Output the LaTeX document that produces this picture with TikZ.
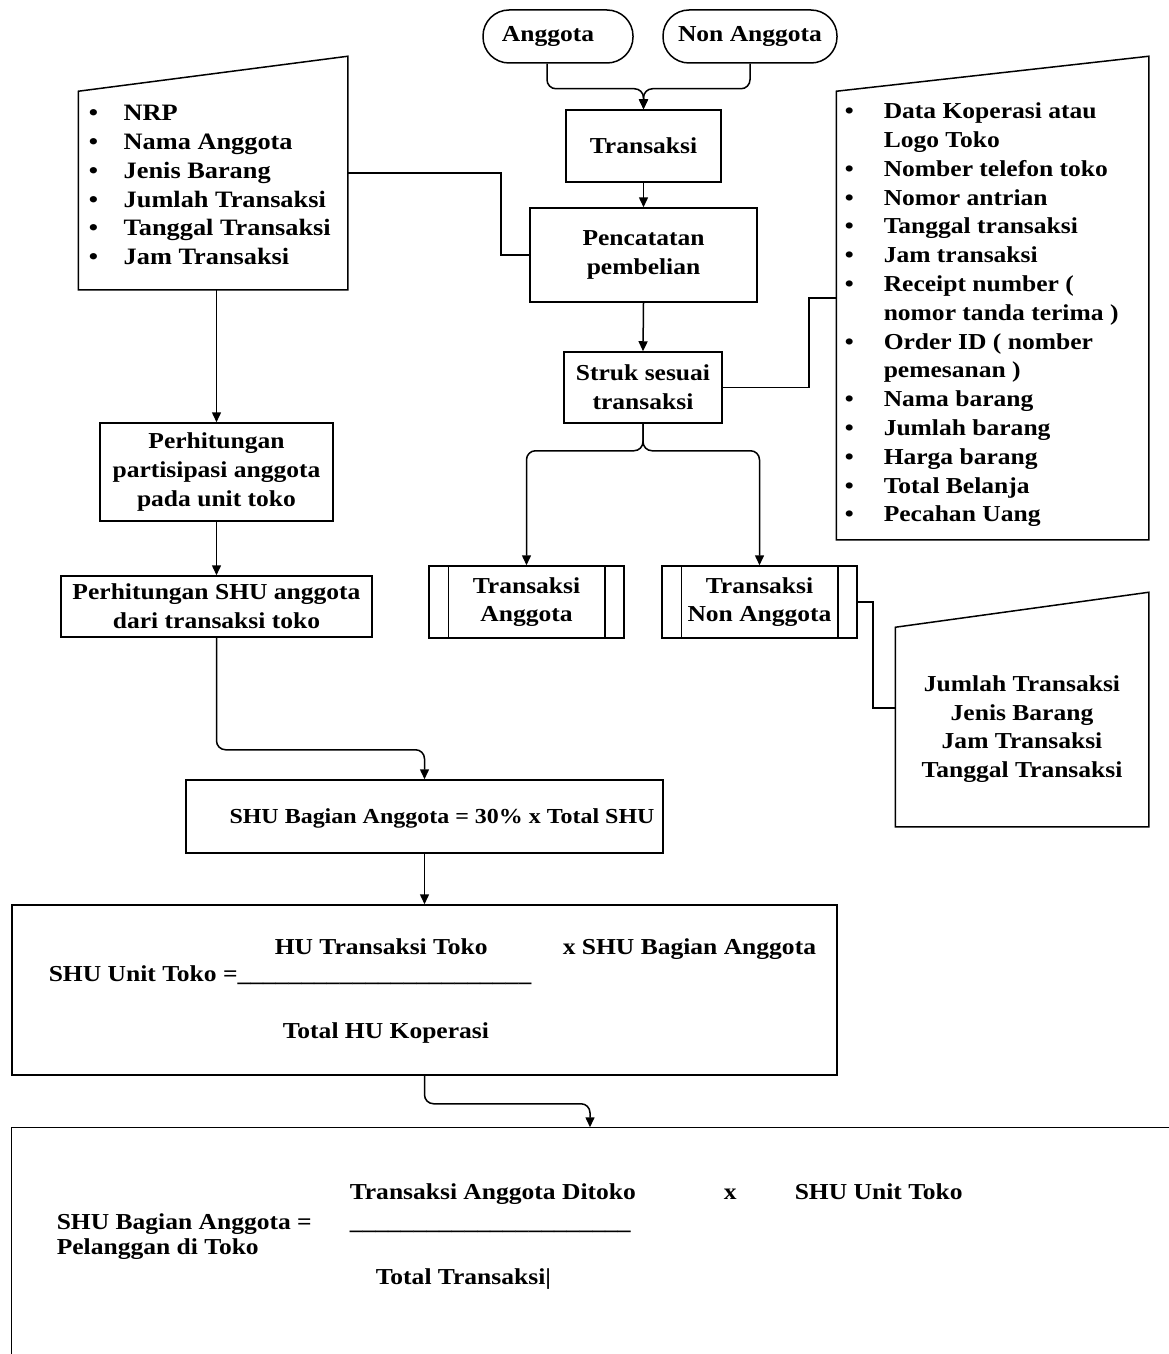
\documentclass[tikz,border=0pt]{standalone}
\usepackage{fontspec}
\newfontfamily\dfont[FakeStretch=1.12]{Liberation Serif}
\usetikzlibrary{arrows.meta}
\newcommand\bulL{\makebox[17.5pt][l]{\textbullet}}
\newcommand\bulR{\makebox[19.5pt][l]{\textbullet}}
\tikzset{
  txt/.style={font=\dfont\bfseries\fontsize{11.4}{14.4}\selectfont, inner sep=0pt},
  box/.style={txt, draw, line width=0.75pt, align=center},
  term/.style={box, rounded corners=13pt},
  area/.style={inner sep=0pt, draw=none},
  arr/.style={-{Triangle[length=5pt,width=4.5pt]}},
  rc/.style={rounded corners=4.5pt}
}
\begin{document}
\begin{tikzpicture}[x=0.5pt,y=-0.5pt,line width=0.75pt]
\useasboundingbox (0,0) rectangle (1168,1354);
\fill[white] (0,0) rectangle (1168,1354);

% top chain
\node[term, minimum width=75pt, minimum height=26.5pt] (A) at (558,36.5) {Anggota\hspace*{10pt}};
\node[term, minimum width=87pt, minimum height=26.5pt] (NA) at (750,36.5) {Non Anggota};
\node[box, minimum width=77.5pt, minimum height=36pt] (T) at (643.5,146) {Transaksi};
\node[box, minimum width=113.5pt, minimum height=47pt] (P) at (643.5,255) {Pencatatan\\pembelian};
\node[box, minimum width=79pt, minimum height=35.5pt] (S) at (643,387.5) {Struk sesuai\\transaksi};
\node[box, minimum width=97.5pt, minimum height=36pt] (TA) at (526.5,602) {Transaksi\\Anggota};
\node[box, minimum width=97.5pt, minimum height=36pt] (TN) at (759.5,602) {Transaksi\\Non Anggota};
\foreach \n in {TA,TN}{
  \draw ([xshift=10pt]\n.north west) -- ([xshift=10pt]\n.south west);
  \draw ([xshift=-10pt]\n.north east) -- ([xshift=-10pt]\n.south east);
}

% manual input shapes
\node[area, minimum width=134pt, minimum height=98.5pt] (L) at (213,190.5) {};
\node[area, minimum width=155.5pt, minimum height=223.5pt] (R) at (992.5,315.5) {};
\node[area, minimum width=126pt, minimum height=99pt] (M) at (1022,727) {};
\foreach \n in {L,R,M}{
  \draw (\n.south west) -- (\n.south east) -- ([yshift=17.5pt]\n.north east) -- (\n.north west) -- cycle;
}
\node[txt, font=\dfont\bfseries\fontsize{11.75}{14.4}\selectfont, align=left, anchor=north west] (Lt) at (88,99.8)
  {\strut\bulL NRP\\\bulL Nama Anggota\\\bulL Jenis Barang\\\bulL Jumlah Transaksi\\\bulL Tanggal Transaksi\\\bulL Jam Transaksi};
\node[txt, align=left, anchor=north west] (Rt) at (844,97.8)
  {\strut\bulR Data Koperasi atau\\\hspace*{19.5pt}Logo Toko\\\bulR Nomber telefon toko\\\bulR Nomor antrian\\\bulR Tanggal transaksi\\\bulR Jam transaksi\\\bulR Receipt number (\\\hspace*{19.5pt}nomor tanda terima )\\\bulR Order ID ( nomber\\\hspace*{19.5pt}pemesanan )\\\bulR Nama barang\\\bulR Jumlah barang\\\bulR Harga barang\\\bulR Total Belanja\\\bulR Pecahan Uang};
\node[txt, align=center] (Mt) at (1022,729) {Jumlah Transaksi\\Jenis Barang\\Jam Transaksi\\Tanggal Transaksi};

% left chain
\node[box, minimum width=116.5pt, minimum height=49pt] (H1) at (216.5,472) {Perhitungan\\partisipasi anggota\\pada unit toko};
\node[box, minimum width=155.5pt, minimum height=30.5pt] (H2) at (216.5,606.5) {Perhitungan SHU anggota\\dari transaksi toko};
\node[box, minimum width=238.5pt, minimum height=36.5pt] (B30) at (424.5,816.5) {};
\node[txt, font=\dfont\bfseries\fontsize{10.7}{12}\selectfont] (B30t) at (442,818) {SHU Bagian Anggota = 30\% x Total SHU};
\node[box, minimum width=412.5pt, minimum height=85pt] (U) at (424.5,990) {};
\node[area, minimum width=578pt, minimum height=113pt] (F) at (590,1241) {};
\draw (F.north east) -- (F.north west) -- (F.south west);

% formula texts
\node[txt, anchor=base west] (u1) at (274,954) {HU Transaksi Toko};
\node[txt, anchor=base west] (u2) at (562,954) {x SHU Bagian Anggota};
\node[txt, anchor=base west] (u3) at (48,981) {SHU Unit Toko =\_\_\_\_\_\_\_\_\_\_\_\_\_\_\_\_\_\_\_\_\_\_\_};
\node[txt, anchor=base west] (u4) at (282,1038) {Total HU Koperasi};
\node[txt, anchor=base west] (f1) at (349,1199) {Transaksi Anggota Ditoko};
\node[txt, anchor=base west] (f2) at (723,1199) {x};
\node[txt, anchor=base west] (f3) at (794,1199) {SHU Unit Toko};
\node[txt, anchor=base west] (f4) at (56,1229) {SHU Bagian Anggota =};
\node[txt, anchor=base west] (f5) at (349,1229) {\_\_\_\_\_\_\_\_\_\_\_\_\_\_\_\_\_\_\_\_\_\_};
\node[txt, anchor=base west] (f6) at (56,1254) {Pelanggan di Toko};
\node[txt, anchor=base west] (f7) at (375,1284) {Total Transaksi|};

% connectors
\draw[arr, rc] ([xshift=-5.5pt]A.south) -- ++(0,25) -| (T.north);
\draw[arr, rc] (NA.south) -- ++(0,25) -| (T.north);
\draw[arr] (T.south) -- (P.north);
\draw[arr] (P.south) -- (S.north);
\draw[arr, rc] (S.south) -- ++(0,27) -| (TA.north);
\draw[arr, rc] (S.south) -- ++(0,27) -| (TN.north);
\draw ([yshift=8.75pt]L.east) -- ++(153,0) |- (P.west);
\draw (S.east) -- ++(86,0) |- ([yshift=8.75pt]R.west);
\draw (TN.east) -- ++(15,0) |- ([yshift=9.5pt]M.west);
\draw[arr] (H1.north |- L.south) -- (H1.north);
\draw[arr] (H1.south) -- (H2.north);
\draw[arr, rc] (H2.south) -- ++(0,112) -| (B30.north);
\draw[arr] (B30.south) -- (U.north);
\draw[arr, rc] (U.south) -- ++(0,28) -| (F.north);
\end{tikzpicture}
\end{document}
